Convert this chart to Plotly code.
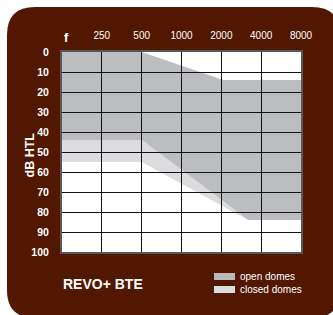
import math
import plotly.graph_objects as go

# ---------------- data ----------------
freq_ticks = [125, 250, 500, 1000, 2000, 4000, 8000]
freq_labels = ["f", "250", "500", "1000", "2000", "4000", "8000"]
db_ticks = [0, 10, 20, 30, 40, 50, 60, 70, 80, 90, 100]
db_labels = [str(v) for v in db_ticks]

open_upper_freq = [125, 500, 2070, 8000]
open_upper_db = [0, 0, 14, 14]
open_lower_freq = [125, 500, 3180, 8000]
open_lower_db = [44, 44, 84, 84]
closed_lower_freq = [125, 500, 3180, 8000]
closed_lower_db = [55, 55, 84, 84]

series_names = ["open domes", "closed domes"]
title_text = "REVO+ BTE"
y_title = "dB HTL"

# ---------------- style / layout ----------------
W, H = 333, 315
L, R, T, B = 62, 301, 52, 252
BROWN = "rgb(82,23,0)"
OPEN_C = "#bcbdc0"
CLOSED_C = "#dcdcde"
SANS = "Liberation Sans, Arial, sans-serif"


def px(x):
    return (x - L) / (R - L)


def py(y):
    return (B - y) / (B - T)


fig = go.Figure()
fig.add_trace(go.Scatter(x=open_upper_freq, y=open_upper_db, mode="lines",
                         line=dict(width=0), showlegend=False, hoverinfo="skip"))
fig.add_trace(go.Scatter(x=open_lower_freq, y=open_lower_db, mode="lines",
                         line=dict(width=0), fill="tonexty", fillcolor=OPEN_C,
                         name=series_names[0], showlegend=False))
fig.add_trace(go.Scatter(x=closed_lower_freq, y=closed_lower_db, mode="lines",
                         line=dict(width=0), fill="tonexty", fillcolor=CLOSED_C,
                         name=series_names[1], showlegend=False))

# rounded brown background
x0, x1, y0, y1, r = 7, 340, 7, 318, 28


def P(x, y):
    return f"{px(x):.5f},{py(y):.5f}"


path = (f"M {P(x0 + r, y0)} L {P(x1 - r, y0)} Q {P(x1, y0)} {P(x1, y0 + r)} "
        f"L {P(x1, y1 - r)} Q {P(x1, y1)} {P(x1 - r, y1)} "
        f"L {P(x0 + r, y1)} Q {P(x0, y1)} {P(x0, y1 - r)} "
        f"L {P(x0, y0 + r)} Q {P(x0, y0)} {P(x0 + r, y0)} Z")
shapes = [
    dict(type="path", xref="paper", yref="paper", path=path,
         fillcolor=BROWN, line=dict(width=0), layer="below"),
    dict(type="rect", xref="paper", yref="paper", x0=0, x1=1, y0=0, y1=1,
         fillcolor="white", line=dict(width=0), layer="below"),
    # legend swatches
    dict(type="rect", xref="paper", yref="paper", x0=px(214), x1=px(235),
         y0=py(280), y1=py(273), fillcolor="#b9b9bc", line=dict(width=0)),
    dict(type="rect", xref="paper", yref="paper", x0=px(214), x1=px(235),
         y0=py(293), y1=py(286), fillcolor="#dcdcdc", line=dict(width=0)),
]

annotations = [
    dict(text="<b>f</b>", x=math.log10(freq_ticks[0]), xref="x", xshift=4,
         y=py(38), yref="paper", yanchor="middle", showarrow=False,
         font=dict(family=SANS, size=12.5, color="white")),
    dict(text=f"<b>{y_title}</b>", x=px(29), y=py(155.5), xref="paper", yref="paper",
         xanchor="center", yanchor="middle",
         textangle=-90, showarrow=False, font=dict(family=SANS, size=12.5, color="white")),
    dict(text=f"<b>{title_text}</b>", x=px(61), y=py(284), xref="paper", yref="paper",
         xanchor="left", yanchor="middle", showarrow=False,
         font=dict(family=SANS, size=14, color="white")),
    dict(text=series_names[0], x=px(238), y=py(276.5), xref="paper", yref="paper",
         xanchor="left", yanchor="middle", showarrow=False,
         font=dict(family=SANS, size=10, color="white")),
    dict(text=series_names[1], x=px(238), y=py(289.5), xref="paper", yref="paper",
         xanchor="left", yanchor="middle", showarrow=False,
         font=dict(family=SANS, size=10, color="white")),
]

fig.update_layout(
    width=W, height=H,
    margin=dict(l=L, r=W - R, t=T, b=H - B, pad=0),
    paper_bgcolor="white", plot_bgcolor="rgba(0,0,0,0)",
    shapes=shapes, annotations=annotations, showlegend=False,
)
fig.update_xaxes(
    type="log", range=[math.log10(125), math.log10(8000)], side="top",
    tickvals=freq_ticks, ticktext=[""] + freq_labels[1:],
    ticks="inside", ticklen=B - T, tickwidth=1.3, tickcolor="#111",
    showgrid=False, zeroline=False, showline=True, linecolor="#58585a",
    linewidth=2, mirror=True, layer="above traces", ticklabelstandoff=7,
    tickfont=dict(family=SANS, size=10, color="white"),
)
fig.update_yaxes(
    range=[100, 0], tickvals=db_ticks, ticktext=db_labels,
    ticks="inside", ticklen=R - L, tickwidth=1.3, tickcolor="#111",
    showgrid=False, zeroline=False, showline=True, linecolor="#58585a",
    linewidth=2, mirror=True, layer="above traces", ticklabelstandoff=9,
    tickfont=dict(family=SANS, size=10.5, color="white", weight="bold"),
)

fig.write_html("out.html", config={"displayModeBar": False},
               post_script="document.body.style.margin='0';")
